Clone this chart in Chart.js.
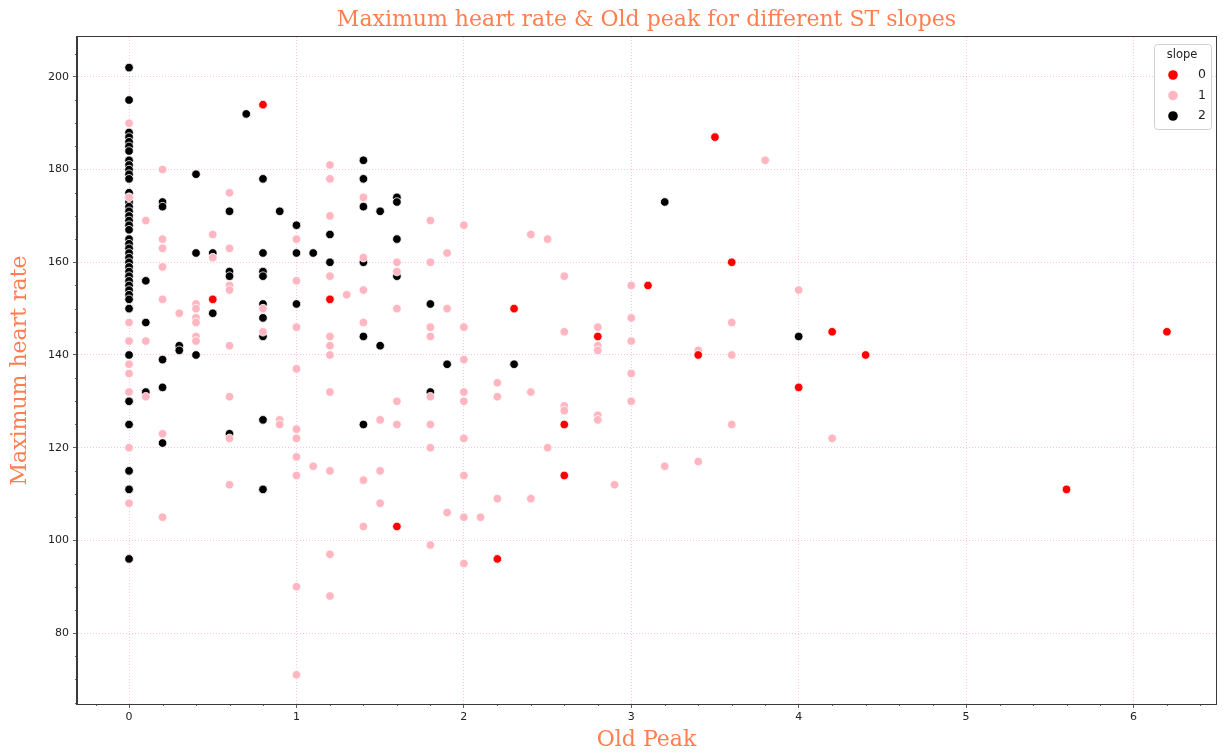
<!DOCTYPE html>
<html>
<head>
<meta charset="utf-8">
<script src="https://cdn.jsdelivr.net/npm/chart.js@4.4.1/dist/chart.umd.min.js"></script>
<style>
  html, body { margin: 0; padding: 0; background: #fff; }
  #wrap { width: 1223px; height: 755px; }
</style>
</head>
<body>
<div id="wrap"><canvas id="scatterChart"></canvas></div>
<script>
const chartTitle = 'Maximum heart rate & Old peak for different ST slopes';
const slopeLabels = ['0', '1', '2'];
const slopeColors = ['#ff0000', '#ffb6c1', '#000000'];
const xTicks = [0, 1, 2, 3, 4, 5, 6];
const yTicks = [80, 100, 120, 140, 160, 180, 200];

// slope 0
const slope0Peak = [0.5, 0.8, 1.2, 1.6, 2.2, 2.3, 2.6, 2.6, 2.8, 3.1, 3.4, 3.5, 3.6, 4.0, 4.2, 4.4, 5.6, 6.2];
const slope0Rate = [152, 194, 152, 103, 96, 150, 125, 114, 144, 155, 140, 187, 160, 133, 145, 140, 111, 145];

// slope 1
const slope1Peak = [
  0, 0, 0, 0, 0, 0, 0, 0, 0,
  0.1, 0.1, 0.1,
  0.2, 0.2, 0.2, 0.2, 0.2, 0.2, 0.2,
  0.3,
  0.4, 0.4, 0.4, 0.4, 0.4, 0.4,
  0.5, 0.5,
  0.6, 0.6, 0.6, 0.6, 0.6, 0.6, 0.6, 0.6,
  0.8, 0.8,
  0.9, 0.9,
  1, 1, 1, 1, 1, 1, 1, 1, 1, 1,
  1.1,
  1.2, 1.2, 1.2, 1.2, 1.2, 1.2, 1.2, 1.2, 1.2, 1.2, 1.2,
  1.3,
  1.4, 1.4, 1.4, 1.4, 1.4, 1.4,
  1.5, 1.5, 1.5,
  1.6, 1.6, 1.6, 1.6, 1.6,
  1.8, 1.8, 1.8, 1.8, 1.8, 1.8, 1.8, 1.8,
  1.9, 1.9, 1.9,
  2, 2, 2, 2, 2, 2, 2, 2, 2,
  2.1,
  2.2, 2.2, 2.2,
  2.4, 2.4, 2.4,
  2.5, 2.5,
  2.6, 2.6, 2.6, 2.6,
  2.8, 2.8, 2.8, 2.8, 2.8,
  2.9,
  3, 3, 3, 3, 3,
  3.2,
  3.4, 3.4,
  3.6, 3.6, 3.6,
  3.8,
  4,
  4.2
];
const slope1Rate = [
  190, 174, 147, 143, 138, 136, 132, 120, 108,
  169, 143, 131,
  180, 165, 163, 159, 152, 123, 105,
  149,
  151, 150, 148, 147, 144, 143,
  166, 161,
  175, 163, 155, 154, 142, 131, 122, 112,
  150, 145,
  126, 125,
  165, 156, 146, 137, 124, 122, 118, 114, 90, 71,
  116,
  181, 178, 170, 157, 144, 142, 140, 132, 115, 97, 88,
  153,
  174, 161, 154, 147, 113, 103,
  126, 115, 108,
  160, 158, 150, 130, 125,
  169, 160, 146, 144, 131, 125, 120, 99,
  162, 150, 106,
  168, 146, 139, 132, 130, 122, 114, 105, 95,
  105,
  134, 131, 109,
  166, 132, 109,
  165, 120,
  157, 145, 129, 128,
  146, 142, 141, 127, 126,
  112,
  155, 148, 143, 136, 130,
  116,
  141, 117,
  147, 140, 125,
  182,
  154,
  122
];

// slope 2
const slope2Peak = [
  0, 0, 0, 0, 0, 0, 0, 0, 0, 0, 0, 0, 0, 0,
  0, 0, 0, 0, 0, 0, 0, 0, 0, 0, 0, 0, 0, 0,
  0, 0, 0, 0, 0, 0, 0, 0, 0, 0, 0, 0, 0, 0,
  0.1, 0.1, 0.1,
  0.2, 0.2, 0.2, 0.2, 0.2,
  0.3, 0.3,
  0.4, 0.4, 0.4,
  0.5, 0.5,
  0.6, 0.6, 0.6, 0.6,
  0.7,
  0.8, 0.8, 0.8, 0.8, 0.8, 0.8, 0.8, 0.8, 0.8,
  0.9,
  1, 1, 1,
  1.1,
  1.2, 1.2,
  1.4, 1.4, 1.4, 1.4, 1.4, 1.4,
  1.5, 1.5,
  1.6, 1.6, 1.6, 1.6,
  1.8, 1.8,
  1.9,
  2.3,
  3.2,
  4
];
const slope2Rate = [
  202, 195, 188, 187, 186, 185, 184, 182, 181, 180, 179, 178, 175, 174,
  173, 172, 171, 170, 169, 168, 167, 165, 164, 163, 162, 161, 160, 159,
  158, 157, 156, 155, 154, 153, 152, 150, 140, 130, 125, 115, 111, 96,
  156, 147, 132,
  173, 172, 139, 133, 121,
  142, 141,
  179, 162, 140,
  162, 149,
  171, 158, 157, 123,
  192,
  178, 162, 158, 157, 151, 148, 144, 126, 111,
  171,
  168, 162, 151,
  162,
  166, 160,
  182, 178, 172, 160, 144, 125,
  171, 142,
  174, 173, 165, 157,
  151, 132,
  138,
  138,
  173,
  144
];

const peaks = [slope0Peak, slope1Peak, slope2Peak];
const rates = [slope0Rate, slope1Rate, slope2Rate];

const coral = '#ff7f50';
const gridColor = 'rgba(255, 160, 180, 0.6)';
const spineColor = '#3a3a3a';

// frame, minor ticks, title and the legend box
const extras = {
  id: 'extras',
  beforeDatasetsDraw(chart) {
    const { ctx, chartArea, scales } = chart;
    ctx.save();
    ctx.strokeStyle = spineColor;
    ctx.lineWidth = 0.8;
    ctx.beginPath();
    for (let v = -0.2; v <= 6.41; v += 0.2) {
      const r = Math.round(v * 10) / 10;
      if (Number.isInteger(r)) continue;
      const px = Math.round(scales.x.getPixelForValue(r)) + 0.5;
      ctx.moveTo(px, chartArea.bottom);
      ctx.lineTo(px, chartArea.bottom + 2);
    }
    for (let v = 65; v <= 205; v += 5) {
      if (v % 20 === 0) continue;
      const py = Math.round(scales.y.getPixelForValue(v)) + 0.5;
      ctx.moveTo(chartArea.left, py);
      ctx.lineTo(chartArea.left - 2, py);
    }
    ctx.stroke();

    ctx.fillStyle = coral;
    ctx.font = '22px "DejaVu Serif", serif';
    ctx.textAlign = 'center';
    ctx.textBaseline = 'middle';
    ctx.fillText(chartTitle, (chartArea.left + chartArea.right) / 2, 20);
    ctx.restore();
  },
  afterDraw(chart) {
    const { ctx, chartArea } = chart;
    ctx.save();
    ctx.strokeStyle = spineColor;
    ctx.lineWidth = 1;
    ctx.strokeRect(chartArea.left - 0.5, chartArea.top - 0.5,
      chartArea.right - chartArea.left + 1, chartArea.bottom - chartArea.top + 1);

    // legend
    const w = 57, h = 85;
    const lx = chartArea.right - 62, ly = chartArea.top + 7;
    ctx.fillStyle = 'rgba(255,255,255,0.85)';
    ctx.strokeStyle = '#d0d0d0';
    ctx.lineWidth = 1;
    ctx.beginPath();
    ctx.roundRect(lx + 0.5, ly + 0.5, w, h, 3);
    ctx.fill();
    ctx.stroke();

    ctx.fillStyle = '#222';
    ctx.font = '11.5px "DejaVu Sans", sans-serif';
    ctx.textAlign = 'center';
    ctx.textBaseline = 'middle';
    ctx.fillText('slope', lx + 28, ly + 11);
    chart.data.datasets.forEach((ds, i) => {
      const cy = ly + 31 + i * 20.5;
      ctx.beginPath();
      ctx.arc(lx + 19, cy, 4.8, 0, Math.PI * 2);
      ctx.fillStyle = ds.backgroundColor;
      ctx.fill();
      ctx.fillStyle = '#222';
      ctx.textAlign = 'left';
      ctx.font = '12.5px "DejaVu Sans", sans-serif';
      ctx.fillText(ds.label, lx + 44, cy);
    });
    ctx.restore();
  }
};

const datasets = slopeLabels.map((lab, i) => ({
  label: lab,
  data: peaks[i].map((p, j) => ({ x: p, y: rates[i][j] })),
  backgroundColor: slopeColors[i],
  borderColor: '#ffffff',
  borderWidth: 0.8,
  pointRadius: 4.3,
  pointHoverRadius: 4.3
}));

const ctx = document.getElementById('scatterChart').getContext('2d');
new Chart(ctx, {
  type: 'scatter',
  data: { datasets: datasets },
  options: {
    responsive: true,
    maintainAspectRatio: false,
    animation: false,
    layout: { padding: { top: 37, right: 7, left: 0, bottom: 0 } },
    plugins: {
      legend: { display: false },
      tooltip: { enabled: false }
    },
    scales: {
      x: {
        type: 'linear',
        min: -0.311,
        max: 6.493,
        afterBuildTicks: (scale) => { scale.ticks = xTicks.map(v => ({ value: v })); },
        afterFit: (scale) => { scale.height = 51; },
        grid: {
          color: gridColor,
          lineWidth: 1,
          tickColor: spineColor,
          tickLength: 4,
          tickWidth: 0.8
        },
        border: { display: true, color: spineColor, width: 1, dash: [1, 2] },
        ticks: {
          color: '#222',
          padding: 3,
          font: { family: 'DejaVu Sans', size: 11 },
          callback: (v) => String(v)
        },
        title: {
          display: true,
          text: 'Old Peak',
          color: coral,
          font: { family: 'DejaVu Serif', size: 22 },
          padding: { top: 0, bottom: 2 }
        }
      },
      y: {
        type: 'linear',
        min: 64.7,
        max: 208.6,
        afterBuildTicks: (scale) => { scale.ticks = yTicks.map(v => ({ value: v })); },
        afterFit: (scale) => { scale.width = 77; },
        grid: {
          color: gridColor,
          lineWidth: 1,
          tickColor: spineColor,
          tickLength: 4,
          tickWidth: 0.8
        },
        border: { display: true, color: spineColor, width: 1, dash: [1, 2] },
        ticks: {
          color: '#222',
          padding: 4,
          font: { family: 'DejaVu Sans', size: 11 },
          callback: (v) => String(v)
        },
        title: {
          display: true,
          text: 'Maximum heart rate',
          color: coral,
          font: { family: 'DejaVu Serif', size: 22 },
          padding: { top: 7, bottom: 0 }
        }
      }
    }
  },
  plugins: [extras]
});
</script>
</body>
</html>
